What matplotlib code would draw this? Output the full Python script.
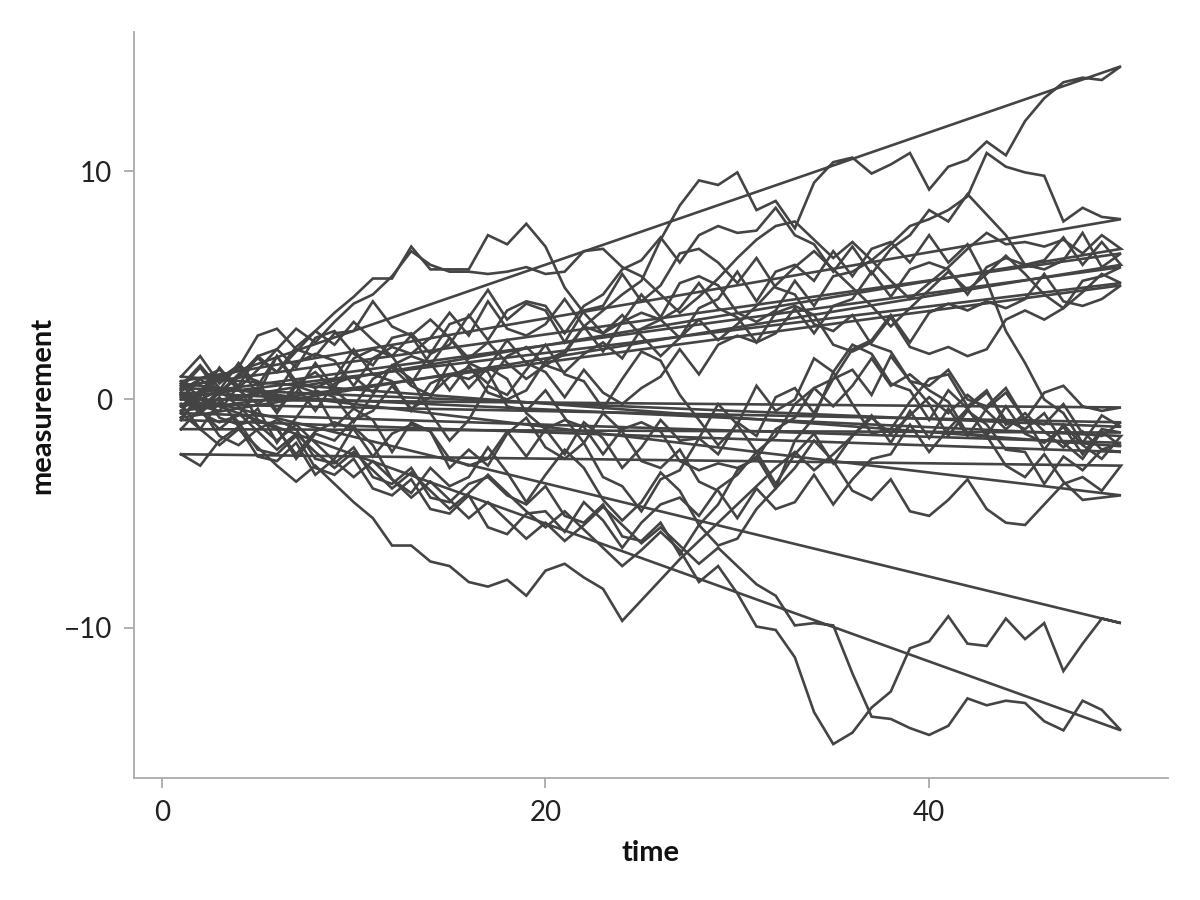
import matplotlib
matplotlib.use("Agg")
import matplotlib.pyplot as plt

# time steps
times = list(range(1, 51))

# random walks (one value per time step)
w1 = [0.4, 0.9, 0.2, 1.1, 1.8, 1.2, 2.3, 3.0, 2.4, 3.4,
      2.6, 1.9, 2.8, 3.5, 2.7, 1.8, 2.5, 1.6, 0.9, 1.5,
      2.0, 3.2, 3.9, 4.6, 5.2, 7.0, 8.5, 9.6, 9.4, 9.95,
      8.3, 8.7, 7.5, 9.5, 10.4, 10.6, 9.9, 10.3, 10.8, 9.2,
      10.2, 10.5, 11.3, 10.7, 12.2, 13.2, 13.9, 14.1, 14.0, 14.6]
w2 = [0.8, 0.1, 1.4, 0.4, -0.2, 0.3, 1.6, 2.0, 1.7, 0.6,
      1.8, 2.3, 2.0, 2.7, 3.8, 2.8, 4.3, 3.1, 2.8, 3.3,
      4.4, 3.2, 2.9, 3.4, 4.6, 3.6, 5.1, 5.4, 5.0, 3.8,
      3.4, 3.9, 5.2, 4.1, 5.4, 5.6, 6.1, 6.8, 7.6, 7.9,
      8.3, 8.9, 10.8, 10.2, 9.95, 9.8, 7.8, 8.4, 8.0, 7.9]
w4 = [0.1, -0.5, 0.3, 1.0, 1.9, 1.2, 2.1, 3.0, 3.8, 4.5,
      5.3, 5.3, 6.7, 5.7, 5.7, 5.7, 7.2, 6.8, 7.7, 6.7,
      4.9, 3.8, 2.9, 3.7, 2.8, 1.9, 2.7, 3.5, 2.6, 3.3,
      4.1, 5.0, 5.8, 6.5, 5.7, 4.9, 4.1, 3.2, 4.0, 4.8,
      5.6, 4.8, 5.5, 6.3, 5.5, 4.6, 4.0, 4.7, 5.5, 5.1]
w5 = [-0.3, 0.4, 1.1, 0.5, 1.3, 2.2, 3.1, 2.5, 3.4, 4.2,
      4.6, 5.4, 6.5, 5.9, 5.6, 5.6, 5.5, 5.6, 5.8, 5.5,
      5.6, 6.5, 6.6, 5.8, 5.4, 4.6, 3.8, 4.5, 5.3, 6.2,
      7.0, 7.6, 7.8, 7.0, 6.2, 6.9, 6.1, 5.2, 4.4, 5.1,
      5.8, 6.6, 7.3, 6.8, 6.9, 6.7, 7.0, 6.4, 7.2, 6.6]
w8 = [0.6, 1.5, 0.5, 0.0, 0.4, -0.1, 0.3, 1.6, 0.5, 1.8,
      2.2, 1.9, 0.7, 2.0, 2.4, 3.7, 2.6, 3.9, 4.3, 4.1,
      2.9, 4.1, 4.6, 5.7, 6.1, 7.1, 6.0, 7.2, 7.6, 7.3,
      7.4, 8.4, 7.2, 6.8, 5.6, 6.7, 5.5, 6.6, 7.2, 8.3,
      7.8, 9.0, 8.1, 7.2, 5.9, 5.7, 6.1, 7.3, 5.8, 6.4]
w9 = [-0.8, 0.0, 0.4, 1.6, 0.6, 1.9, 0.8, 0.5, 0.9, 2.2,
      1.1, 0.8, -0.5, 0.7, 1.1, 0.9, 1.4, 2.6, 1.6, 1.2,
      0.1, 1.3, 0.3, -0.2, 0.5, 1.0, 2.2, 1.1, 2.4, 2.8,
      2.5, 2.9, 4.0, 2.9, 4.1, 4.4, 5.6, 4.5, 5.7, 6.0,
      5.7, 4.6, 5.8, 6.2, 5.9, 6.1, 7.1, 5.9, 6.9, 5.9]
w10 = [0.2, -0.6, -1.0, -0.7, 0.5, -0.6, 0.6, -0.5, 0.7, 1.0,
       0.3, 1.5, 1.9, 1.6, 0.4, 1.5, 0.3, 0.0, 0.4, 1.7,
       2.1, 3.2, 2.1, 3.4, 3.8, 3.5, 4.0, 5.1, 4.0, 3.6,
       2.5, 3.8, 4.1, 3.7, 2.4, 2.1, 2.5, 3.6, 2.3, 2.0,
       2.3, 1.9, 2.2, 3.5, 3.9, 3.5, 4.0, 5.2, 5.4, 5.8]
w11 = [-0.5, 0.4, -0.8, -1.1, -0.9, -1.3, -2.4, -1.4, -1.0, -1.3,
       -2.5, -1.5, -1.1, -1.4, -2.6, -2.9, -2.6, -1.4, -2.5, -1.3,
       -0.9, -1.2, -2.4, -1.3, -1.0, -1.4, -2.7, -3.1, -2.8, -3.0,
       -2.6, -1.3, -0.8, 0.5, 0.9, 2.2, 2.6, 3.7, 2.5, 3.8,
       4.2, 3.9, 4.3, 4.0, 4.4, 5.5, 4.3, 4.1, 4.4, 5.0]
l1 = [0.0, 0.9, 1.3, 0.6, 1.9, 2.2, 1.4, 2.7, 3.0, 2.0,
      1.5, 2.7, 2.9, 2.0, 3.3, 3.6, 4.8, 3.5, 4.2, 3.9,
      2.5, 3.9, 4.1, 5.5, 4.3, 5.0, 6.4, 6.6, 6.0, 5.1,
      6.2, 4.9, 4.6, 3.3, 3.0, 3.7, 2.4, 2.1, 0.8, 0.6,
      1.3, 0.0, -0.3, 0.5, -0.9, 0.3, 0.6, -0.3, -0.5, -0.35]
l2 = [-0.2, -1.3, -0.1, -1.0, -2.2, -2.4, -1.6, -3.0, -3.3, -2.6,
      -3.9, -4.2, -3.5, -4.8, -5.0, -4.2, -5.6, -5.9, -5.0, -4.9,
      -5.8, -4.5, -5.3, -6.5, -5.4, -4.6, -4.3, -5.1, -3.9, -3.3,
      -2.3, -3.7, -2.4, -1.5, -2.8, -1.6, -0.7, -1.9, -0.5, -1.7,
      -0.4, -1.6, -0.4, 0.3, -0.9, -1.1, -0.2, -1.5, -1.6, -1.0]
l3 = [0.5, 1.4, 0.3, 1.1, 0.8, -0.5, 0.7, 1.2, 0.4, -0.3,
      0.9, 1.4, 0.6, 0.2, 1.0, 1.4, 0.7, 1.9, 2.3, 1.5,
      1.2, 2.0, 2.5, 1.8, 3.1, 3.5, 2.7, 4.0, 4.4, 5.6,
      4.3, 5.6, 5.9, 5.2, 6.5, 5.4, 6.6, 6.9, 6.0, 7.2,
      6.0, 6.8, 5.2, 3.0, 1.6, 0.0, -0.6, -1.9, -0.7, -1.2]
l4 = [-1.3, -0.4, -1.6, -2.0, -1.3, -0.9, -1.3, -2.6, -2.8, -2.1,
      -3.4, -3.7, -3.0, -4.3, -4.5, -3.7, -3.4, -4.2, -4.6, -3.8,
      -5.1, -5.4, -4.6, -6.0, -6.2, -5.4, -6.8, -5.5, -6.4, -6.1,
      -4.8, -3.9, -1.8, -0.8, 1.2, 2.4, 2.0, 0.7, 0.4, -0.9,
      0.4, -0.4, -1.6, -0.3, -1.5, -1.9, -1.2, -2.4, -1.3, -1.45]
l5 = [0.3, -0.6, 0.1, -1.2, -0.4, -1.9, -0.8, 0.4, 0.1, -1.0,
      0.2, 1.5, 0.9, -0.6, -1.8, -0.9, 0.6, 0.2, 1.3, 2.4,
      1.1, 0.8, -0.4, 0.9, 2.1, 1.7, 0.2, -0.9, -2.0, -1.1,
      0.6, -0.5, 0.0, 1.8, 1.2, -0.2, -1.5, -1.3, -0.1, 0.9,
      1.1, -0.3, 0.4, -1.1, -0.8, -2.2, -1.1, -2.0, -2.6, -1.6]
l6 = [-0.6, -1.3, -2.0, -1.3, -2.1, -2.9, -3.6, -2.9, -3.7, -4.5,
      -5.2, -6.4, -6.4, -7.1, -7.3, -8.0, -8.2, -7.9, -8.6, -7.5,
      -7.2, -7.8, -8.3, -9.7, -8.8, -7.9, -7.0, -6.2, -5.4, -4.6,
      -3.8, -3.0, -2.3, -3.1, -2.4, -1.6, -0.8, -1.5, -0.7, 0.1,
      -0.6, 0.2, -0.5, -1.3, -0.6, -1.4, -2.1, -1.4, -2.2, -1.9]
l7 = [1.0, 1.9, 0.7, 1.4, 2.8, 3.1, 2.2, 1.9, 2.9, 3.0,
      4.3, 3.2, 2.8, 1.5, 2.7, 1.6, 1.2, -0.3, -0.5, 0.4,
      -0.8, -1.9, -0.6, -1.4, -2.7, -3.0, -2.2, -3.6, -4.0, -5.2,
      -3.9, -4.8, -4.5, -3.3, -4.6, -3.5, -2.6, -2.4, -1.1, -2.3,
      -1.3, -0.4, 0.3, -0.9, -1.3, -0.6, -1.9, -2.6, -1.4, -2.05]
l8 = [-0.9, 0.3, 0.9, 1.5, 0.2, 1.9, 0.6, 0.3, -1.2, -0.4,
      -0.9, -2.3, -1.0, -1.4, -3.0, -2.2, -2.9, -1.5, -0.8, -2.1,
      -2.6, -1.9, -3.4, -3.8, -4.9, -3.5, -3.1, -1.7, -2.4, -1.0,
      -1.6, 0.1, 0.5, -0.6, 0.9, 1.3, 0.2, 1.9, 0.8, -0.2,
      -1.6, -0.5, -1.1, -2.2, -2.3, -3.7, -2.5, -3.1, -2.2, -2.3]
l9 = [-2.4, -2.9, -1.8, -1.2, -2.5, -2.7, -1.9, -3.3, -2.6, -1.2,
      -2.0, -3.5, -4.1, -3.0, -3.8, -3.4, -2.1, -3.2, -4.5, -3.3,
      -2.2, -3.0, -4.4, -5.3, -4.5, -3.2, -4.0, -5.5, -4.6, -3.1,
      -2.5, -3.9, -3.0, -1.8, -2.7, -4.0, -4.4, -3.5, -4.9, -5.1,
      -4.4, -3.5, -4.8, -5.4, -5.5, -4.6, -3.7, -3.4, -4.0, -2.9]
l10 = [0.7, -0.3, -0.5, 0.6, -0.9, -1.2, -2.6, -1.5, -1.8, -0.9,
       -0.5, 0.6, -0.4, 0.1, 1.6, 0.5, 1.4, 0.9, -0.6, -1.3,
       -2.4, -1.0, -1.7, -3.0, -2.1, -0.9, -1.8, -1.7, -0.2, -1.1,
       -2.3, -1.6, -0.2, 0.5, -0.3, 0.6, 1.8, 0.6, 1.1, 0.4,
       -0.1, -1.5, -1.6, -2.9, -3.4, -2.4, -3.6, -4.4, -4.3, -4.2]
w6 = [0.2, -0.5, -1.3, -0.6, -1.4, -2.2, -1.5, -2.3, -3.0, -2.3,
      -3.1, -3.9, -3.2, -4.0, -4.8, -4.1, -3.3, -4.1, -4.9, -5.6,
      -4.9, -5.7, -6.5, -7.3, -6.6, -5.8, -6.6, -8.0, -7.3, -8.5,
      -9.95, -10.1, -11.3, -13.7, -15.1, -14.6, -13.5, -12.8, -10.9, -10.6,
      -9.5, -10.7, -10.8, -9.6, -10.5, -9.8, -11.9, -10.7, -9.6, -9.8]
w7 = [0.3, -0.4, 0.4, -0.3, -1.1, -1.8, -1.1, -1.9, -2.7, -3.4,
      -2.7, -3.5, -4.3, -3.6, -4.4, -5.2, -4.5, -5.3, -6.1, -5.4,
      -6.2, -5.5, -4.7, -5.5, -6.3, -5.6, -6.4, -7.2, -6.5, -7.3,
      -8.1, -8.6, -9.9, -9.8, -9.9, -12.0, -13.9, -14.0, -14.4, -14.7,
      -14.3, -13.1, -13.4, -13.2, -13.3, -14.1, -14.5, -13.2, -13.6, -14.5]

walks = [w1, w2, w4, w5, w8, w9, w10, w11,
         l1, l2, l3, l4, l5, l6, l7, l8, l9, l10, w6, w7]

line_color = "#444444"
axis_color = "#aaaaaa"

plt.rcParams["font.family"] = ["Lato", "DejaVu Sans"]

fig = plt.figure(figsize=(12, 9), dpi=100)
ax = fig.add_axes([0.1117, 0.1356, 0.8616, 0.8284])

for walk in walks:
    # each path closes back on its first point
    xs = times + [times[0]]
    ys = walk + [walk[0]]
    ax.plot(xs, ys, color=line_color, linewidth=1.9, solid_joinstyle="miter")

ax.set_xticks([0, 20, 40])
ax.set_yticks([-10, 0, 10])
ax.set_yticklabels(["\u221210", "0", "10"])

for side in ["top", "right"]:
    ax.spines[side].set_visible(False)
for side in ["left", "bottom"]:
    ax.spines[side].set_color(axis_color)
    ax.spines[side].set_linewidth(1.3)

ax.tick_params(color=axis_color, length=7, width=1.3, labelsize=20, pad=9,
               labelcolor="#222222")

ax.set_xlabel("time", fontsize=21, fontweight="bold", color="#111111", labelpad=10)
ax.set_ylabel("measurement", fontsize=21, fontweight="bold", color="#111111", labelpad=6)

fig.savefig("out.png", dpi=100, facecolor="white")
